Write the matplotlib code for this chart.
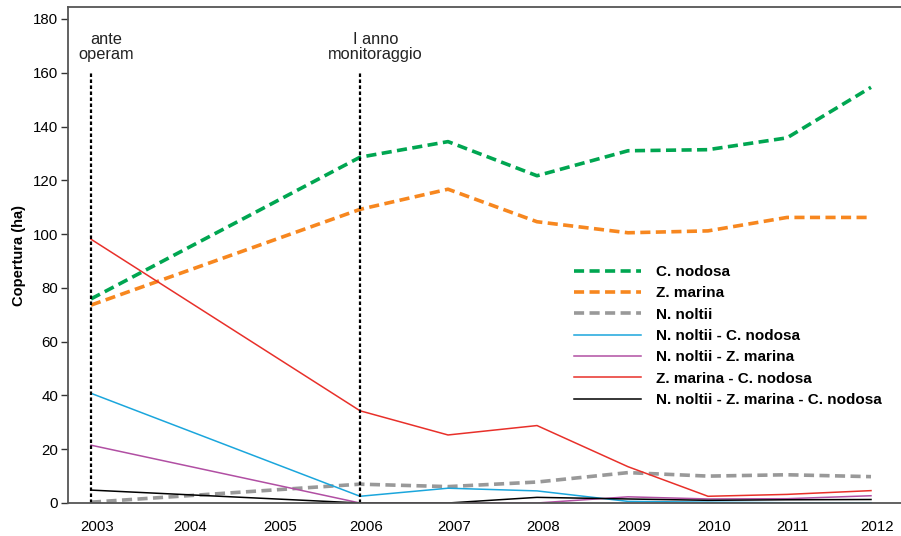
import numpy as np
import matplotlib
matplotlib.use("Agg")
import matplotlib.pyplot as plt
from matplotlib.transforms import ScaledTranslation

plt.rcParams['font.family'] = ['Liberation Sans', 'DejaVu Sans']

# ---------------- data ----------------
years = [2003, 2006, 2007, 2008, 2009, 2010, 2011, 2012]
year_labels = [2003, 2004, 2005, 2006, 2007, 2008, 2009, 2010, 2011, 2012]

c_nodosa = [75.9, 128.6, 134.4, 121.7, 131.0, 131.4, 135.8, 154.6]
z_marina = [73.6, 109.2, 116.7, 104.6, 100.5, 101.2, 106.2, 106.2]
n_noltii = [0.3, 7.0, 6.1, 7.8, 11.3, 10.0, 10.5, 9.8]
nn_cn = [40.8, 2.5, 5.5, 4.5, 0.6, 0.3, 0.1, 0.1]
nn_zm = [21.5, 0.0, 0.0, 0.0, 2.3, 1.5, 1.6, 2.7]
zm_cn = [98.1, 34.3, 25.3, 28.8, 13.5, 2.5, 3.2, 4.6]
nn_zm_cn = [4.8, 0.0, 0.0, 2.1, 1.5, 1.0, 1.2, 1.3]

events = [2003, 2006]
event_labels = ["ante\noperam", "I anno\nmonitoraggio"]
event_top = 160

# uneven spacing of the year axis in the original chart
axis_years = [2000, 2003, 2004, 2005, 2006, 2007, 2008, 2009, 2010, 2011, 2012, 2015]
axis_units = [-188, 91, 184, 274, 360, 448, 537, 628, 708, 787, 871, 1123]

def fwd(x):
    return np.interp(x, axis_years, axis_units)

def inv(u):
    return np.interp(u, axis_units, axis_years)

# ---------------- figure ----------------
W, H, DPI = 901, 536, 100
fig = plt.figure(figsize=(W / DPI, H / DPI), dpi=DPI)
ax = fig.add_axes([68 / W, 1 - 503 / H, (W - 68) / W, (503 - 7) / H])
ax.set_xscale('function', functions=(fwd, inv))

dash_kw = dict(lw=2.6, dashes=(2.8, 1.5), solid_capstyle='butt', dash_capstyle='butt')
ax.plot(years, c_nodosa, color='#00A651', label='C. nodosa', **dash_kw)
ax.plot(years, z_marina, color='#F7871F', label='Z. marina', **dash_kw)
ax.plot(years, n_noltii, color='#999999', label='N. noltii', **dash_kw)
ax.plot(years, nn_cn, color='#1BA6DC', lw=1.1, label='N. noltii - C. nodosa')
ax.plot(years, nn_zm, color='#B14FA3', lw=1.1, label='N. noltii - Z. marina')
ax.plot(years, zm_cn, color='#E8302A', lw=1.1, label='Z. marina - C. nodosa')
ax.plot(years, nn_zm_cn, color='black', lw=1.1, label='N. noltii - Z. marina - C. nodosa')

for ev, lab in zip(events, event_labels):
    ax.plot([ev, ev], [0, event_top], color='black', lw=1.6, dashes=(1.6, 1.1))
    ax.annotate(lab, xy=(ev, event_top), xytext=(11, 8), textcoords='offset points',
                ha='center', va='bottom', fontsize=11.8, color='#222222',
                linespacing=1.0)

ax.set_xlim(inv(68), inv(W))
ax.set_ylim(0, (503 - 7) / (484 / 180))
ax.set_yticks(np.arange(0, 181, 20))
ax.set_xticks(year_labels)
ax.set_xticklabels([str(y) for y in year_labels])
ax.minorticks_off()

ax.tick_params(axis='y', direction='out', length=5, width=1, pad=2, labelsize=10.8,
               colors='#333333', labelcolor='black')
ax.tick_params(axis='x', length=0, pad=12, labelsize=10.8)
offset = ScaledTranslation(6 / DPI, 0, fig.dpi_scale_trans)
for lbl in ax.get_xticklabels():
    lbl.set_transform(lbl.get_transform() + offset)

for s in ['left', 'bottom', 'top']:
    ax.spines[s].set_color('#555555')
    ax.spines[s].set_linewidth(1.3)
ax.spines['right'].set_visible(False)

ax.set_ylabel('Copertura (ha)', fontsize=10.5, fontweight='bold', labelpad=5)

leg = ax.legend(loc='upper left', bbox_to_anchor=(574 / W, 1 - 265 / H),
                bbox_transform=fig.transFigure, frameon=False, fontsize=11,
                handlelength=4.4, handletextpad=1.0, labelspacing=0.48,
                borderpad=0, borderaxespad=0)
for t in leg.get_texts():
    t.set_fontweight('bold')

fig.savefig('out.png', dpi=DPI)
